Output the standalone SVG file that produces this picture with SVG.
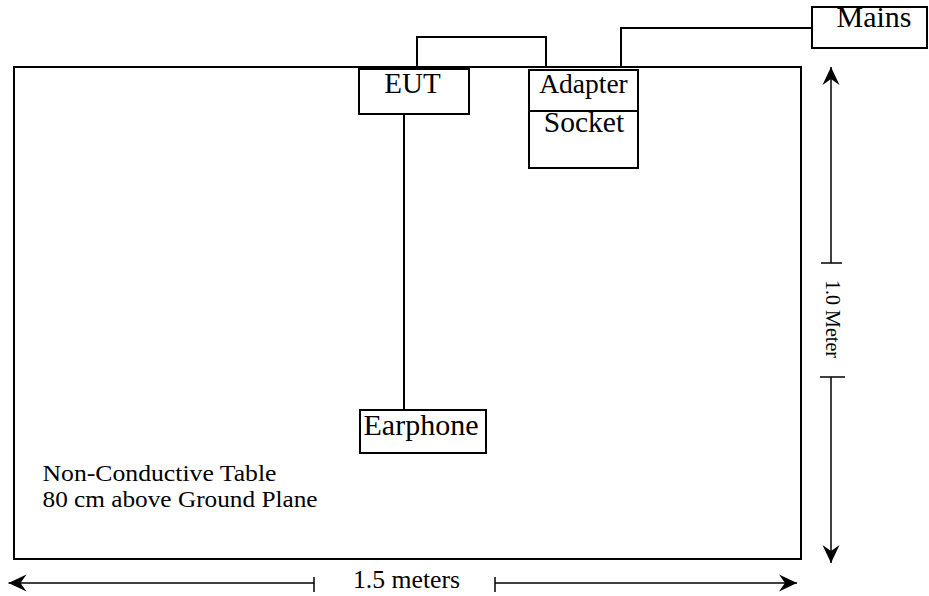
<svg xmlns="http://www.w3.org/2000/svg" width="929" height="596" viewBox="0 0 929 596">
<style>
  .box { fill: #fff; stroke: #000; stroke-width: 2; }
  .ln { fill: none; stroke: #000; stroke-width: 2; }
  .dim { fill: none; stroke: #000; stroke-width: 1.5; }
  text { font-family: "Liberation Serif", "Times New Roman", serif; fill: #000; }
</style>
<defs>
  <marker id="ah" markerUnits="userSpaceOnUse" markerWidth="20" markerHeight="20" viewBox="-19 -10 20 20" refX="0" refY="0" orient="auto-start-reverse">
    <path d="M0,0 L-18,-8.5 L-12,0 L-18,8.5 Z" fill="#000"/>
  </marker>
</defs>
<rect width="929" height="596" fill="#fff"/>
<g id="table">
  <rect class="box" x="14" y="67" width="787" height="492"/>
  <text x="42.5" y="480.5" font-size="23.5" textLength="234" lengthAdjust="spacingAndGlyphs">Non-Conductive Table</text>
  <text x="42.5" y="506.5" font-size="23.5" textLength="275" lengthAdjust="spacingAndGlyphs">80 cm above Ground Plane</text>
</g>
<g id="connectors">
  <polyline class="ln" points="417,69 417,37 546,37 546,67"/>
  <polyline class="ln" points="621,67 621,28 812,28"/>
  <line class="ln" x1="404" y1="114" x2="404" y2="410"/>
</g>
<g id="eut">
  <rect class="box" x="359" y="69" width="110" height="45"/>
  <text x="412.5" y="93" font-size="29" text-anchor="middle">EUT</text>
</g>
<g id="adapter">
  <rect class="box" x="529" y="70" width="109" height="41"/>
  <text x="583.5" y="93" font-size="27.5" text-anchor="middle">Adapter</text>
</g>
<g id="socket">
  <rect class="box" x="529" y="111" width="109" height="57"/>
  <text x="584" y="131.5" font-size="29.5" text-anchor="middle">Socket</text>
</g>
<g id="mains">
  <rect class="box" x="812" y="7" width="115" height="41"/>
  <text x="874" y="27" font-size="30" text-anchor="middle">Mains</text>
</g>
<g id="earphone">
  <rect class="box" x="360" y="410" width="126" height="43"/>
  <text x="421" y="435" font-size="30" text-anchor="middle">Earphone</text>
</g>
<g id="dimensions">
  <line class="dim" x1="831" y1="263" x2="831" y2="67" marker-end="url(#ah)"/>
  <line class="dim" x1="821" y1="263" x2="842" y2="263"/>
  <line class="dim" x1="831" y1="377" x2="831" y2="563" marker-end="url(#ah)"/>
  <line class="dim" x1="820" y1="377" x2="845" y2="377"/>
  <text transform="translate(825.5,280) rotate(90)" font-size="21" textLength="78" lengthAdjust="spacingAndGlyphs">1.0 Meter</text>
  <line class="dim" x1="314" y1="583" x2="8.5" y2="583" marker-end="url(#ah)"/>
  <line class="dim" x1="314" y1="577" x2="314" y2="592"/>
  <line class="dim" x1="495" y1="583" x2="797" y2="583" marker-end="url(#ah)"/>
  <line class="dim" x1="495" y1="577" x2="495" y2="592"/>
  <text x="406.5" y="588" font-size="25.7" text-anchor="middle">1.5 meters</text>
</g>
</svg>
